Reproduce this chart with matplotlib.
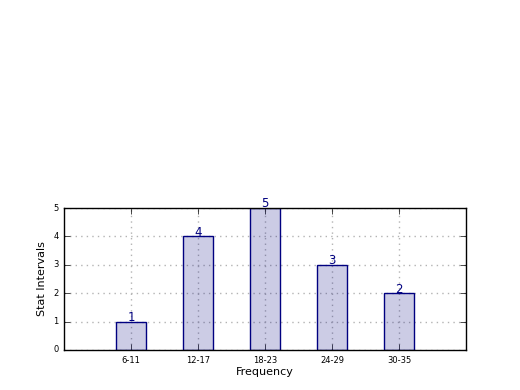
import matplotlib
matplotlib.use('Agg')
import matplotlib.pyplot as plt
import numpy as np

plt.style.use('classic')

# donnees
intervalles = ['6-11', '12-17', '18-23', '24-29', '30-35']
effectifs = [1, 4, 5, 3, 2]

fig = plt.figure(figsize=(5.2, 3.9), dpi=100)
ax = fig.add_axes([0.123, 0.1026, 0.773, 0.364])

x = np.arange(len(intervalles))
ax.bar(x, effectifs, width=0.45, align='center', color='navy', alpha=0.2, edgecolor='none')
ax.bar(x, effectifs, width=0.45, align='center', fill=False, edgecolor='navy', linewidth=1)

# etiquettes au dessus des barres
for xi, v in zip(x, effectifs):
    ax.annotate(str(v), (xi, v), xytext=(0, 3), textcoords='offset points',
                ha='center', va='center', color='navy', fontsize=8.5)

ax.set_xlim(-1, 5)
ax.set_ylim(0, 5)
ax.set_xticks(x)
ax.set_xticklabels(intervalles, fontsize=6)
ax.tick_params(axis='y', labelsize=6)
ax.grid(True, color='0.7', linestyle=':', linewidth=1)
ax.set_axisbelow(True)
ax.set_xlabel('Frequency', fontsize=8, labelpad=2)
ax.set_ylabel('Stat Intervals', fontsize=8, labelpad=4)

fig.savefig('out.png', dpi=100, facecolor='white')
